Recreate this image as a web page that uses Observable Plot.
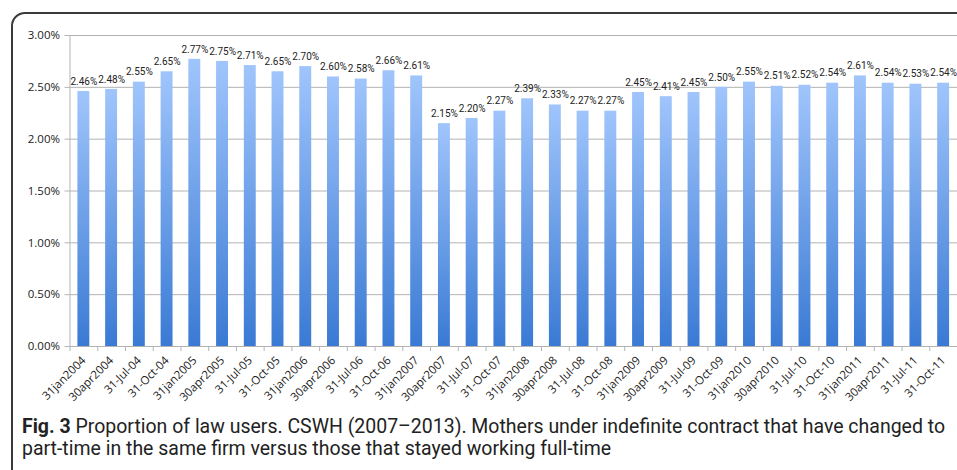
<!DOCTYPE html>
<html>
<head>
<meta charset="utf-8">
<script src="https://cdn.jsdelivr.net/npm/d3@7"></script>
<script src="https://cdn.jsdelivr.net/npm/@observablehq/plot@0.6"></script>
<style>
  html, body { margin: 0; padding: 0; background: #fff; width: 957px; height: 470px; overflow: hidden; }
  #wrap { position: relative; width: 957px; height: 470px; overflow: hidden; }
  #frame { position: absolute; left: 11px; top: 12px; width: 2000px; height: 1000px;
           border: 2px solid #3a3a3a; border-radius: 14px; box-sizing: border-box; }
  #chart { position: absolute; left: 0; top: 0; }
  #caption { position: absolute; left: 22px; top: 416px; white-space: nowrap;
             font-family: "Roboto", "Liberation Sans", sans-serif;
             font-size: 19.5px; line-height: 22px; color: #222; }
  #caption span.line { display: inline-block; transform-origin: 0 50%; }
  #caption b { font-weight: bold; }
</style>
</head>
<body>
<div id="wrap">
  <div id="frame"></div>
  <div id="chart"></div>
  <div id="caption"><span class="line" id="l1"><b>Fig. 3</b> Proportion of law users. CSWH (2007–2013). Mothers under indefinite contract that have changed to</span><br><span class="line" id="l2">part-time in the same firm versus those that stayed working full-time</span></div>
</div>
<script>
const categories = ["31jan2004","30apr2004","31-Jul-04","31-Oct-04","31jan2005","30apr2005","31-Jul-05","31-Oct-05",
  "31jan2006","30apr2006","31-Jul-06","31-Oct-06","31jan2007","30apr2007","31-Jul-07","31-Oct-07",
  "31jan2008","30apr2008","31-Jul-08","31-Oct-08","31jan2009","30apr2009","31-Jul-09","31-Oct-09",
  "31jan2010","30apr2010","31-Jul-10","31-Oct-10","31jan2011","30apr2011","31-Jul-11","31-Oct-11"];
const values = [2.46,2.48,2.55,2.65,2.77,2.75,2.71,2.65,
  2.70,2.60,2.58,2.66,2.61,2.15,2.20,2.27,
  2.39,2.33,2.27,2.27,2.45,2.41,2.45,2.50,
  2.55,2.51,2.52,2.54,2.61,2.54,2.53,2.54];
const yTicks = [0, 0.5, 1.0, 1.5, 2.0, 2.5, 3.0];

const data = categories.map((c, i) => ({cat: c, v: values[i]}));
const fmt = d => d.toFixed(2) + "%";

const W = 957, H = 400, mL = 69.5, mR = 0, mT = 35, mB = 54;
const step = (W - mL - mR) / categories.length;
const pad = 0.57;

const plot = Plot.plot({
  width: W, height: H,
  marginLeft: mL, marginRight: mR, marginTop: mT, marginBottom: mB,
  style: {fontFamily: "'Open Sans', sans-serif", background: "transparent", overflow: "visible"},
  x: {domain: categories, paddingInner: pad, paddingOuter: pad / 2, align: 0.5, round: false},
  y: {domain: [0, 3], ticks: yTicks},
  marks: [
    Plot.gridY(yTicks, {stroke: "#b3b3b3", strokeOpacity: 1}),
    Plot.frame({anchor: "left", stroke: "#b3b3b3"}),
    Plot.barY(data, {x: "cat", y: "v", fill: "url(#barGrad)"}),
    Plot.ruleY([0], {stroke: "#b3b3b3"}),
    Plot.ruleX(categories, {x: d => d, dx: -step / 2, y1: 0, y2: 0, insetBottom: -5, stroke: "#b3b3b3"}),
    Plot.axisY(yTicks, {tickSize: 5, tickPadding: 5, tickFormat: fmt, stroke: "#b3b3b3", fill: "#222", fontSize: 11.5, label: null}),
    Plot.axisX({tickSize: 0, tickPadding: 12, tickRotate: -45, fill: "#222", fontSize: 11.5, label: null}),
    Plot.text(data, {x: "cat", y: "v", text: d => fmt(d.v), dy: -10, fontSize: 10, fill: "#222", fontFamily: "Roboto, sans-serif"})
  ]
});

const ns = "http://www.w3.org/2000/svg";
const defs = document.createElementNS(ns, "defs");
const grad = document.createElementNS(ns, "linearGradient");
grad.setAttribute("id", "barGrad");
grad.setAttribute("x1", "0"); grad.setAttribute("y1", "0");
grad.setAttribute("x2", "0"); grad.setAttribute("y2", "1");
[["0%", "#a0c5fc"], ["100%", "#3a7ad4"]].forEach(([o, c]) => {
  const s = document.createElementNS(ns, "stop");
  s.setAttribute("offset", o); s.setAttribute("stop-color", c);
  grad.appendChild(s);
});
defs.appendChild(grad);
plot.insertBefore(defs, plot.firstChild);

document.getElementById("chart").appendChild(plot);

// fit caption lines to the reference widths
const l1 = document.getElementById("l1"), l2 = document.getElementById("l2");
const w1 = l1.getBoundingClientRect().width;
const k = 923 / w1;
l1.style.transform = `scaleX(${k})`;
l2.style.transform = `scaleX(${k})`;
</script>
</body>
</html>
